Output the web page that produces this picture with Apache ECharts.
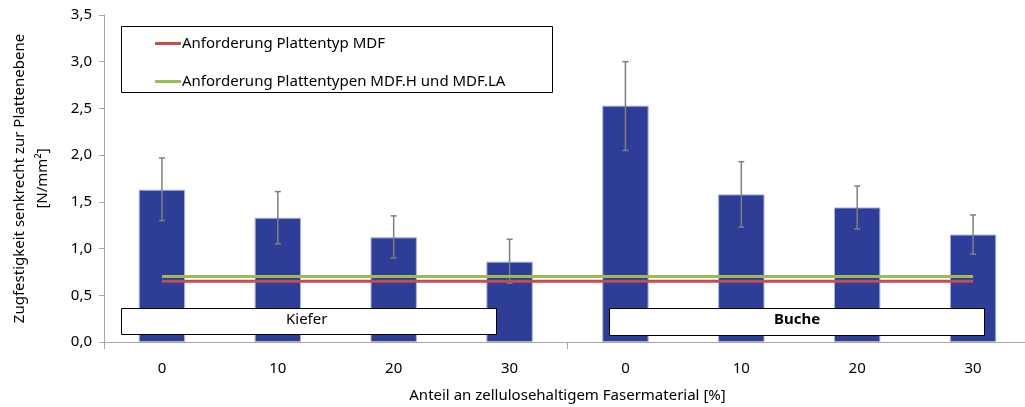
<!DOCTYPE html>
<html>
<head>
<meta charset="utf-8">
<script src="https://cdn.jsdelivr.net/npm/echarts@6/dist/echarts.min.js"></script>
<style>
  html, body { margin: 0; padding: 0; background: #fff; overflow: hidden; }
  #chart { width: 1025px; height: 407px; }
</style>
</head>
<body>
<div id="chart"></div>
<script>
// Anteil an zellulosehaltigem Fasermaterial, Kiefer 0..30 then Buche 0..30
var categories = ['0', '10', '20', '30', '0', '10', '20', '30'];
var groupNames = ['Kiefer', 'Buche'];
// Mittelwerte Zugfestigkeit [N/mm²]
var meanValues = [1.63, 1.33, 1.12, 0.86, 2.53, 1.58, 1.44, 1.15];
// Fehlerbalken unten / oben
var errLow = [1.30, 1.05, 0.90, 0.63, 2.05, 1.23, 1.21, 0.94];
var errHigh = [1.97, 1.61, 1.35, 1.10, 3.00, 1.93, 1.67, 1.36];
// Anforderungen
var reqMDF = [0.65, 0.65, 0.65, 0.65, 0.65, 0.65, 0.65, 0.65];
var reqMDFH = [0.70, 0.70, 0.70, 0.70, 0.70, 0.70, 0.70, 0.70];
var yTicks = [0, 0.5, 1.0, 1.5, 2.0, 2.5, 3.0, 3.5];

var FONT = 'Noto Sans';
var FS = 15;
var chart = echarts.init(document.getElementById('chart'));

var errData = [];
for (var i = 0; i < categories.length; i++) {
  errData.push([i, errLow[i], errHigh[i]]);
}

function renderErr(params, api) {
  var idx = api.value(0);
  var lo = api.coord([idx, api.value(1)]);
  var hi = api.coord([idx, api.value(2)]);
  var cap = 3;
  var style = { stroke: '#7f7f7f', lineWidth: 1.5 };
  return {
    type: 'group',
    children: [
      { type: 'line', shape: { x1: lo[0], y1: lo[1], x2: hi[0], y2: hi[1] }, style: style },
      { type: 'line', shape: { x1: hi[0] - cap, y1: hi[1], x2: hi[0] + cap, y2: hi[1] }, style: style },
      { type: 'line', shape: { x1: lo[0] - cap, y1: lo[1], x2: lo[0] + cap, y2: lo[1] }, style: style }
    ]
  };
}

var option = {
  animation: false,
  textStyle: { fontFamily: FONT },
  grid: { left: 104, right: -6, top: 15, bottom: 65, containLabel: false, outerBoundsMode: 'none' },
  legend: {
    orient: 'vertical',
    left: 155,
    top: 36,
    itemWidth: 26,
    itemHeight: 3,
    itemGap: 23,
    padding: 0,
    icon: 'rect',
    data: ['Anforderung Plattentyp MDF', 'Anforderung Plattentypen MDF.H und MDF.LA'],
    textStyle: { fontFamily: FONT, fontSize: FS, color: '#000', padding: [0, 0, 0, -4] }
  },
  xAxis: {
    type: 'category',
    data: categories,
    boundaryGap: true,
    axisLine: { lineStyle: { color: '#a6a6a6', width: 1 } },
    axisTick: {
      show: true, length: 7, lineStyle: { color: '#a6a6a6' },
      interval: function (index) { return index % 4 === 0; }
    },
    axisLabel: { interval: 0, margin: 19, fontSize: FS, color: '#000', fontFamily: FONT },
    name: 'Anteil an zellulosehaltigem Fasermaterial [%]',
    nameLocation: 'middle',
    nameGap: 46,
    nameTextStyle: { fontSize: FS, color: '#000', fontFamily: FONT }
  },
  yAxis: {
    type: 'value',
    min: yTicks[0],
    max: yTicks[yTicks.length - 1],
    interval: 0.5,
    splitLine: { show: false },
    axisLine: { show: true, lineStyle: { color: '#a6a6a6' } },
    axisTick: { show: true, inside: false, length: 5, lineStyle: { color: '#a6a6a6' } },
    axisLabel: {
      fontSize: FS, color: '#000', margin: 12, fontFamily: FONT,
      formatter: function (v) { return v.toFixed(1).replace('.', ','); }
    },
    name: 'Zugfestigkeit senkrecht zur Plattenebene\n[N/mm²]',
    nameLocation: 'middle',
    nameGap: 50,
    nameRotate: 90,
    nameTextStyle: { fontSize: FS, color: '#000', lineHeight: 23, fontFamily: FONT }
  },
  series: [
    {
      name: 'Zugfestigkeit',
      type: 'bar',
      data: meanValues,
      barWidth: '40%',
      itemStyle: { color: '#2e3d97', borderColor: '#a9b3dc', borderWidth: 1 },
      z: 2
    },
    {
      name: 'Fehler',
      type: 'custom',
      renderItem: renderErr,
      data: errData,
      encode: { x: 0, y: [1, 2] },
      z: 3
    },
    {
      name: 'Anforderung Plattentypen MDF.H und MDF.LA',
      type: 'line',
      data: reqMDFH,
      symbol: 'none',
      lineStyle: { color: '#9bbb59', width: 3 },
      itemStyle: { color: '#9bbb59' },
      z: 4
    },
    {
      name: 'Anforderung Plattentyp MDF',
      type: 'line',
      data: reqMDF,
      symbol: 'none',
      lineStyle: { color: '#c0504d', width: 3 },
      itemStyle: { color: '#c0504d' },
      z: 4
    }
  ],
  graphic: [
    {
      type: 'rect', left: 121, top: 26, z: 1,
      shape: { width: 431, height: 66 },
      style: { fill: '#fff', stroke: '#000', lineWidth: 1 }
    },
    {
      type: 'rect', left: 121, top: 308, z: 100,
      shape: { width: 375, height: 26 },
      style: { fill: '#fff', stroke: '#000', lineWidth: 1 }
    },
    {
      type: 'text', left: 286, top: 312, z: 101,
      style: { text: groupNames[0], fontSize: FS, fontFamily: FONT, fill: '#000' }
    },
    {
      type: 'rect', left: 609, top: 308, z: 100,
      shape: { width: 375, height: 27 },
      style: { fill: '#fff', stroke: '#000', lineWidth: 1 }
    },
    {
      type: 'text', left: 774, top: 312, z: 101,
      style: { text: groupNames[1], fontSize: FS, fontWeight: 'bold', fontFamily: FONT, fill: '#000' }
    }
  ]
};

chart.setOption(option);
</script>
</body>
</html>
